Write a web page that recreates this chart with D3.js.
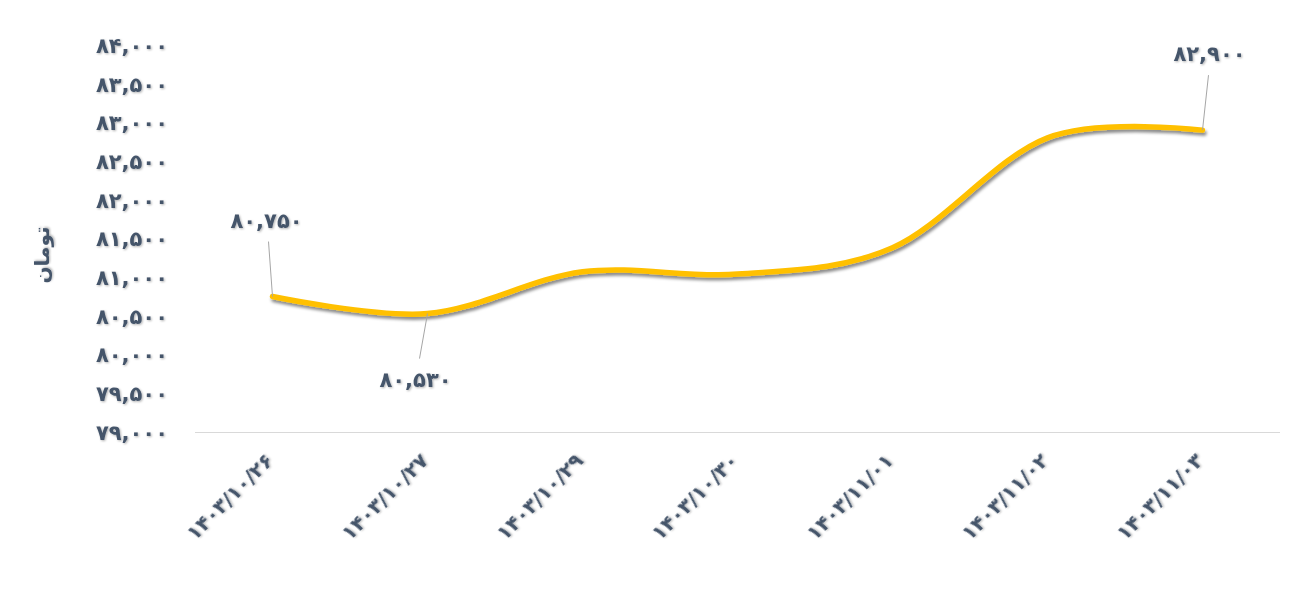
<!DOCTYPE html>
<html><head><meta charset="utf-8">
<script src="https://cdn.jsdelivr.net/npm/d3@7/dist/d3.min.js"></script>
<style>body{margin:0;background:#fff;}svg{display:block;font-family:"DejaVu Sans",sans-serif;}</style>
</head><body>
<svg id="c" width="1289" height="597"></svg>
<script>
const categories = ["1403/10/26","1403/10/27","1403/10/29","1403/10/30","1403/11/01","1403/11/02","1403/11/03"];
const prices = [80750, 80530, 81070, 81040, 81380, 82800, 82900];
const yTicks = [79000,79500,80000,80500,81000,81500,82000,82500,83000,83500,84000];
const labelledIdx = [0, 1, 6];
const yTitle = "تومان";

const fa = s => String(s).replace(/[0-9]/g, d => "۰۱۲۳۴۵۶۷۸۹"[+d]);
const fmt = v => fa(d3.format(",")(v));

const svg = d3.select("#c");
const ink = "#44546A";
const defs = svg.append("defs");
defs.append("filter").attr("id","sh").attr("x","-10%").attr("y","-50%").attr("width","120%").attr("height","200%")
  .append("feDropShadow").attr("dx",1.5).attr("dy",3).attr("stdDeviation",1.8).attr("flood-color","#000").attr("flood-opacity",0.45);
defs.append("filter").attr("id","tsh").attr("x","-10%").attr("y","-30%").attr("width","130%").attr("height","160%")
  .append("feDropShadow").attr("dx",1).attr("dy",1).attr("stdDeviation",0.8).attr("flood-color","#000").attr("flood-opacity",0.3);

const x = d3.scaleBand().domain(categories).range([195,1280]);
const y = d3.scaleLinear().domain([79000,84000]).range([432,45]);
const cx = c => x(c) + x.bandwidth()/2;

// x axis line
svg.append("line").attr("x1",195).attr("x2",1280).attr("y1",432.5).attr("y2",432.5)
  .attr("stroke","#d9d9d9").attr("stroke-width",1);

// y tick labels
const yAxis = d3.axisLeft(y).tickValues(yTicks).tickFormat(fmt).tickSize(0).tickPadding(0);
const gy = svg.append("g").attr("transform","translate(168,0)").call(yAxis);
gy.select(".domain").remove();
gy.selectAll("text").attr("fill",ink).attr("font-size",21).attr("font-weight","bold")
  .attr("font-family","DejaVu Sans, sans-serif").attr("filter","url(#tsh)").attr("dy","0.35em");

// x tick labels
const xAxis = d3.axisBottom(x).tickFormat(fa).tickSize(0).tickPadding(0);
const gx = svg.append("g").attr("transform","translate(0,450)").call(xAxis);
gx.select(".domain").remove();
gx.selectAll("text").attr("fill",ink).attr("font-size",20).attr("font-weight","bold")
  .attr("font-family","DejaVu Sans, sans-serif").attr("filter","url(#tsh)")
  .attr("text-anchor","end").attr("direction","ltr").attr("dy","0.7em").attr("dx","0")
  .attr("transform","translate(-8,2) rotate(-45)");

// y title
svg.append("text").attr("transform","translate(42,255) rotate(-90)")
  .attr("text-anchor","middle").attr("dy","0.35em").attr("fill",ink).attr("font-size",20)
  .attr("font-weight","bold").attr("filter","url(#tsh)").text(yTitle);

// line
const line = d3.line().x((d,i)=>cx(categories[i])).y(d=>y(d)).curve(d3.curveCatmullRom.alpha(0));
svg.append("path").datum(prices).attr("d",line).attr("fill","none").attr("stroke","#FFC000")
  .attr("stroke-width",5.5).attr("stroke-linecap","round").attr("stroke-linejoin","round").attr("filter","url(#sh)");

// data labels with leader lines
const labelOffsets = {0:[-6,-76], 1:[-12,66], 6:[7,-76]};
const leaderX = {0:2, 1:4, 6:-1};
labelledIdx.forEach(i=>{
  const px = cx(categories[i]), py = y(prices[i]);
  const [dx,dy] = labelOffsets[i];
  const lx = px+dx, ly = py+dy;
  const startY = dy<0 ? ly+21 : ly-21;
  svg.append("line").attr("x1",lx+leaderX[i]).attr("y1",startY)
    .attr("x2",px).attr("y2",py).attr("stroke","#a6a6a6").attr("stroke-width",1);
  svg.append("text").attr("x",lx).attr("y",ly).attr("text-anchor","middle").attr("dy","0.35em")
    .attr("fill",ink).attr("font-size",21).attr("font-weight","bold").attr("filter","url(#tsh)")
    .text(fmt(prices[i]));
});
</script>
</body></html>
